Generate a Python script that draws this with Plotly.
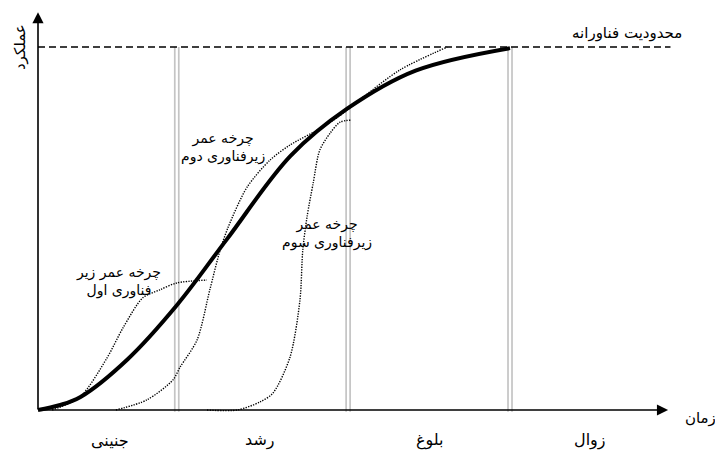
import plotly.graph_objects as go

# ---- data (time units 0..100 = end of decline boundary, performance 0..100 = technology limit)
main_t = [0, 4.5, 9, 19, 29.5, 40, 53.5, 65.5, 80, 100]
main_p = [0, 1.3, 3.6, 14, 29, 47, 70, 83, 93.5, 99.7]

sub1_t = [3, 8.9, 14.6, 18.0, 22.2, 25.8, 29.4, 35.8]
sub1_p = [0, 3.6, 14.3, 22.6, 30.9, 33.1, 35.0, 35.8]

sub2_t = [16.5, 23.1, 28.6, 30.1, 33.7, 36.4, 38.6, 40.3, 44.3, 49.2, 53.4, 60.4, 65.0, 68.9, 76.7, 86.7]
sub2_p = [0, 2.8, 8.3, 11.8, 19.3, 33.1, 44.1, 50.4, 61.4, 68.9, 73.0, 78.0, 82.1, 86.2, 93.7, 100]

sub3_t = [35.8, 42.2, 47.0, 49.8, 53.4, 55.5, 56.1, 57.0, 58.3, 59.7, 61.9, 64.0, 66.5]
sub3_p = [0, 0, 2.2, 4.7, 14.6, 30.3, 44.1, 53.2, 62.5, 71.6, 76.3, 79.3, 79.9]

limit_value = 100
limit_label = "محدودیت فناورانه"
phase_bounds = [29.4, 65.7, 100]
phase_names = ["جنینی", "رشد", "بلوغ", "زوال"]
phase_centers = [15.3, 47.0, 83.1, 116.9]
sub_labels = ["چرخه عمر زیر<br>فناوری اول", "چرخه عمر<br>زیرفناوری دوم", "چرخه عمر<br>زیرفناوری سوم"]
sub_label_pos = [(17.0, 35.5), (39.2, 72.3), (61.2, 48.6)]
x_title = "زمان"
y_title = "عملکرد"

FONT = "DejaVu Sans"

fig = go.Figure()

for t, p in [(sub1_t, sub1_p), (sub2_t, sub2_p), (sub3_t, sub3_p)]:
    fig.add_trace(go.Scatter(x=t, y=p, mode="lines",
                             line=dict(color="black", width=1.4, dash="1.3px,1.3px", shape="spline", smoothing=0.8),
                             hoverinfo="skip", showlegend=False))

fig.add_trace(go.Scatter(x=main_t, y=main_p, mode="lines",
                         line=dict(color="black", width=4, shape="spline", smoothing=1.0),
                         hoverinfo="skip", showlegend=False))

shapes = []
shapes.append(dict(type="line", xref="x", yref="y", x0=0, x1=134, y0=limit_value, y1=limit_value,
                   line=dict(color="black", width=1.3, dash="7px,4px")))
for b in phase_bounds:
    for off in (-2, 2):
        shapes.append(dict(type="line", xref="x", yref="y", xsizemode="pixel", xanchor=b,
                           x0=off, x1=off, y0=-0.5, y1=limit_value,
                           line=dict(color="#c4c4c4", width=1.7), layer="below"))

annotations = []
annotations.append(dict(x=0, y=109.6, ax=0, ay=-0.3, xref="x", yref="y", axref="x", ayref="y",
                        showarrow=True, arrowhead=2, arrowsize=1.4, arrowwidth=1.6, arrowcolor="black", text=""))
annotations.append(dict(x=133.5, y=0, ax=-0.2, ay=0, xref="x", yref="y", axref="x", ayref="y",
                        showarrow=True, arrowhead=2, arrowsize=1.4, arrowwidth=1.6, arrowcolor="black", text=""))
annotations.append(dict(x=124.8, y=103.9, text=limit_label, showarrow=False, font=dict(size=15, family=FONT, color="black")))
annotations.append(dict(x=-3.8, y=100, text=y_title, textangle=-90, showarrow=False, font=dict(size=15, family=FONT, color="black")))
annotations.append(dict(x=140.3, y=-2.2, text=x_title, showarrow=False, font=dict(size=15, family=FONT, color="black")))
for name, c in zip(phase_names, phase_centers):
    annotations.append(dict(x=c, y=-8.3, text=name, showarrow=False, font=dict(size=16, family=FONT, color="black")))
for lab, (tx, ty) in zip(sub_labels, sub_label_pos):
    annotations.append(dict(x=tx, y=ty, text=lab, showarrow=False, font=dict(size=14, family=FONT, color="black")))

fig.update_layout(
    width=715, height=450, margin=dict(l=0, r=0, t=0, b=0),
    paper_bgcolor="white", plot_bgcolor="white",
    xaxis=dict(range=[-8.05, 143.43], visible=False, fixedrange=True),
    yaxis=dict(range=[-11.02, 112.95], visible=False, fixedrange=True),
    shapes=shapes, annotations=annotations, showlegend=False,
)

fig.write_html("out.html", config={"displayModeBar": False},
               post_script="document.body.style.margin='0';document.body.style.overflow='hidden';")
